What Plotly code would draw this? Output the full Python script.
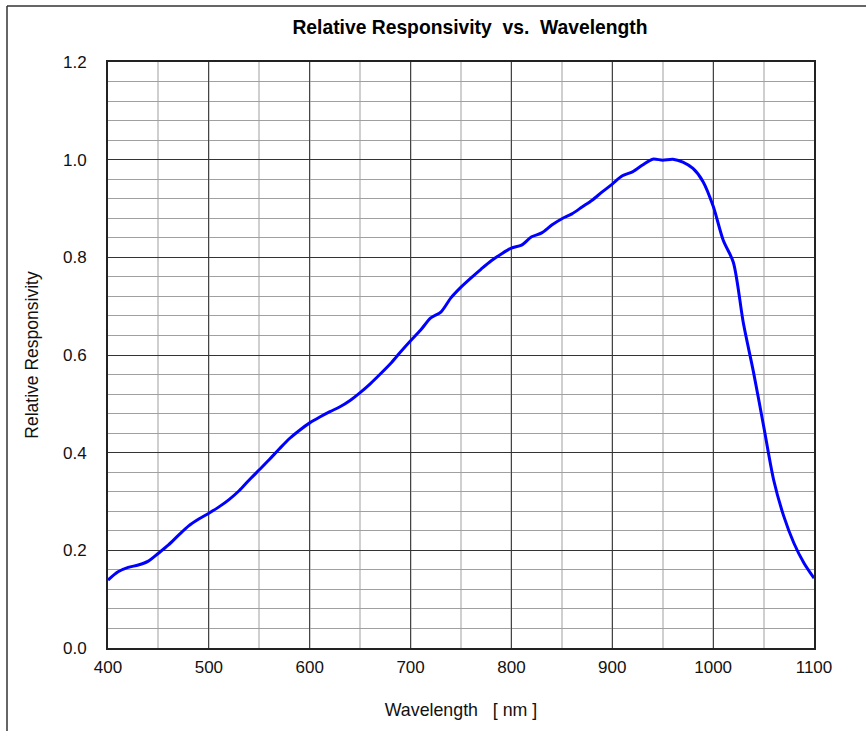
import plotly.graph_objects as go

wavelength = [400, 410, 420, 430, 440, 450, 460, 470, 480, 490,
              500, 510, 520, 530, 540, 550, 560, 570, 580, 590,
              600, 610, 620, 630, 640, 650, 660, 670, 680, 690,
              700, 710, 720, 730, 740, 750, 760, 770, 780, 790,
              800, 810, 820, 830, 840, 850, 860, 870, 880, 890,
              900, 910, 920, 930, 940, 950, 960, 970, 980, 990,
              1000, 1010, 1020, 1030, 1040, 1050, 1060, 1070, 1080, 1090, 1100]
responsivity = [0.139, 0.156, 0.165, 0.170, 0.178, 0.194, 0.211, 0.231, 0.250, 0.264,
                0.276, 0.289, 0.304, 0.322, 0.344, 0.365, 0.386, 0.408, 0.429, 0.446,
                0.461, 0.473, 0.484, 0.494, 0.507, 0.523, 0.541, 0.561, 0.582, 0.606,
                0.629, 0.651, 0.676, 0.688, 0.717, 0.739, 0.758, 0.776, 0.793, 0.807,
                0.819, 0.825, 0.842, 0.850, 0.866, 0.879, 0.889, 0.903, 0.917, 0.934,
                0.950, 0.967, 0.975, 0.989, 1.001, 0.999, 1.001, 0.995, 0.982, 0.955,
                0.905, 0.835, 0.790, 0.665, 0.565, 0.455, 0.344, 0.270, 0.215, 0.174, 0.143]

x_ticks = [400, 500, 600, 700, 800, 900, 1000, 1100]
y_ticks = [0.0, 0.2, 0.4, 0.6, 0.8, 1.0, 1.2]

NB = "\u00a0"
title_text = "Relative Responsivity" + NB * 2 + "vs." + NB * 2 + "Wavelength"
xlabel_text = "Wavelength" + NB * 3 + "[ nm ]"
ylabel_text = "Relative Responsivity"

fig = go.Figure()
fig.add_trace(go.Scatter(
    x=wavelength, y=responsivity, mode="lines",
    line=dict(color="#0000ff", width=3, shape="spline", smoothing=0.8),
    showlegend=False, hoverinfo="skip",
))

font_family = "Liberation Sans, Arial, sans-serif"

fig.update_layout(
    width=866, height=731,
    margin=dict(l=108, r=52, t=62, b=83),
    paper_bgcolor="white", plot_bgcolor="white",
    font=dict(family=font_family, color="#111111"),
    title=dict(text="<b>" + title_text + "</b>", x=0.5127, xref="paper", xanchor="center",
               y=1 - 27 / 731, yanchor="middle", font=dict(size=19.3, color="#000000")),
    xaxis=dict(
        range=[400, 1100], tickvals=x_ticks, ticktext=[str(v) for v in x_ticks],
        showgrid=True, gridcolor="#444444", gridwidth=1,
        minor=dict(dtick=50, tick0=400, showgrid=True, gridcolor="#cfcfcf", gridwidth=1.5),
        showline=True, linecolor="#222222", linewidth=2, mirror=True,
        ticks="", tickfont=dict(size=17, color="#111111"), ticklabelstandoff=3,
        zeroline=False, fixedrange=True,
        title=dict(text=xlabel_text, font=dict(size=17.8, color="#111111"), standoff=27),
    ),
    yaxis=dict(
        range=[0, 1.2], tickvals=y_ticks, ticktext=["%.1f" % v for v in y_ticks],
        showgrid=True, gridcolor="#333333", gridwidth=1,
        minor=dict(dtick=0.04, tick0=0, showgrid=True, gridcolor="#a0a0a0", gridwidth=1),
        showline=True, linecolor="#222222", linewidth=2, mirror=True,
        ticks="", tickfont=dict(size=17, color="#111111"), ticklabelstandoff=16,
        zeroline=False, fixedrange=True,
        title=dict(text=ylabel_text, font=dict(size=17.5, color="#111111"), standoff=20),
    ),
)

# outer frame (top and left edges of the original image)
x_left = (7 - 108) / 706
x_right = (866 - 108) / 706
y_top = (648 - 6) / 586
y_bottom = (648 - 731) / 586
fig.add_shape(type="line", xref="paper", yref="paper", x0=x_left, x1=x_right, y0=y_top, y1=y_top,
              line=dict(color="#333333", width=1.5))
fig.add_shape(type="line", xref="paper", yref="paper", x0=x_left, x1=x_left, y0=y_top, y1=y_bottom,
              line=dict(color="#333333", width=1.5))

fig.write_html("out.html", config={"displayModeBar": False},
               post_script="document.body.style.margin='0';document.body.style.overflow='hidden';")
